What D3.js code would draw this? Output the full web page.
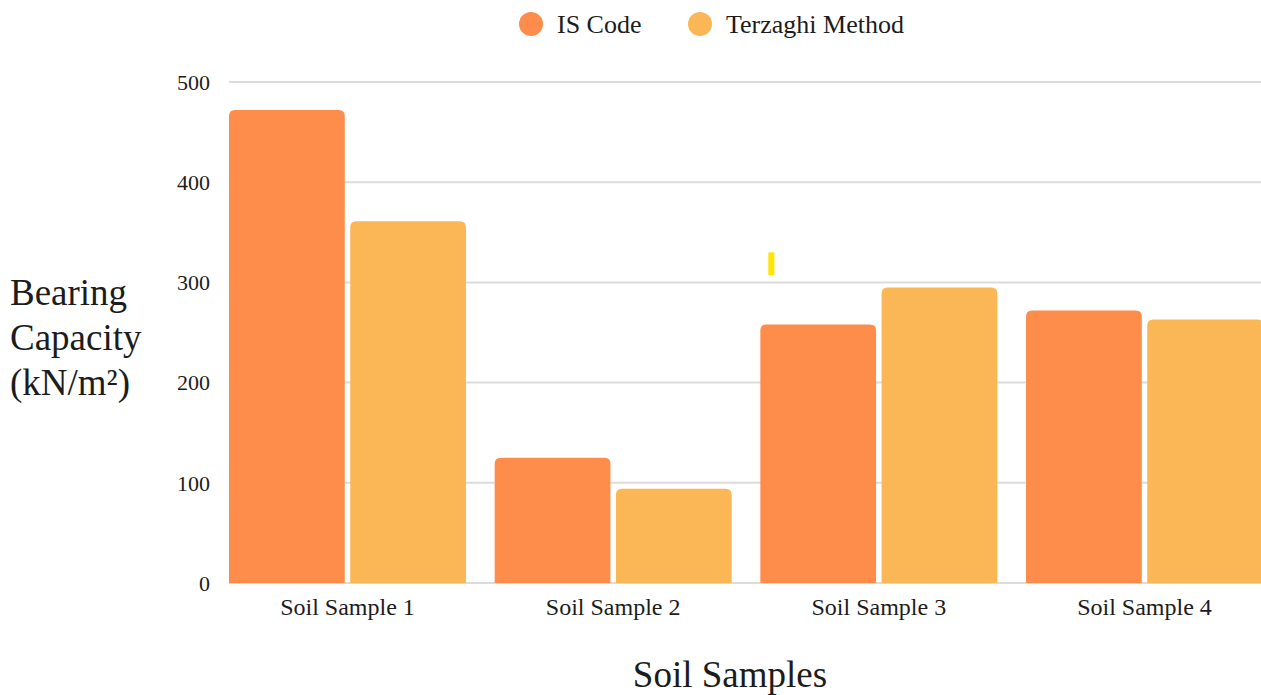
<!DOCTYPE html>
<html>
<head>
<meta charset="utf-8">
<script src="https://cdn.jsdelivr.net/npm/d3@7"></script>
</head>
<body style="margin:0;padding:0;background:#fff">
<svg id="chart" width="1261" height="695" style="display:block"></svg>
<script>
// Bearing capacity of four soil samples by two methods
const categories = ["Soil Sample 1", "Soil Sample 2", "Soil Sample 3", "Soil Sample 4"];
const seriesNames = ["IS Code", "Terzaghi Method"];
const isCode = [472, 125, 258, 272];
const terzaghi = [361, 94, 295, 263];
const yTicks = [0, 100, 200, 300, 400, 500];
const colors = ["#fe8c4a", "#fbb756"];

const FONT = "'Liberation Serif', 'Times New Roman', Times, serif";
const TEXT_COLOR = "#1c1c1c";

const svg = d3.select("#chart")
  .attr("font-family", FONT);
const margin = { left: 229, right: -2, top: 82, bottom: 112 };
const W = 1261, H = 695;

const x = d3.scaleBand()
  .domain(categories)
  .range([margin.left, W - margin.right])
  .paddingInner(0.108)
  .paddingOuter(0);

const xInner = d3.scaleBand()
  .domain(seriesNames)
  .range([0, x.bandwidth()])
  .paddingInner(0.045);

const y = d3.scaleLinear()
  .domain([0, 500])
  .range([H - margin.bottom, margin.top]);

// gridlines
svg.append("g")
  .selectAll("line")
  .data(yTicks)
  .join("line")
  .attr("x1", margin.left)
  .attr("x2", W)
  .attr("y1", d => y(d))
  .attr("y2", d => y(d))
  .attr("stroke", "#dcdcdc")
  .attr("stroke-width", 2);

// y tick labels
svg.append("g")
  .selectAll("text")
  .data(yTicks)
  .join("text")
  .attr("x", 210)
  .attr("y", d => y(d))
  .attr("dy", "0.35em")
  .attr("text-anchor", "end")
  .attr("font-family", FONT)
  .attr("font-size", 22)
  .attr("fill", TEXT_COLOR)
  .text(d => d);

// bars with rounded tops
const rows = categories.map((c, i) => ({ cat: c, vals: [isCode[i], terzaghi[i]] }));
const r = 6;
function topRounded(x0, y0, w, h) {
  const rr = Math.min(r, h, w / 2);
  return `M${x0},${y0 + h}V${y0 + rr}Q${x0},${y0} ${x0 + rr},${y0}H${x0 + w - rr}Q${x0 + w},${y0} ${x0 + w},${y0 + rr}V${y0 + h}Z`;
}

const groups = svg.append("g")
  .selectAll("g")
  .data(rows)
  .join("g")
  .attr("transform", d => `translate(${x(d.cat)},0)`);

groups.selectAll("path")
  .data(d => d.vals.map((v, j) => ({ name: seriesNames[j], v, j })))
  .join("path")
  .attr("d", d => topRounded(xInner(d.name), y(d.v), xInner.bandwidth(), y(0) - y(d.v)))
  .attr("fill", d => colors[d.j]);

// small yellow tick mark above the third group
svg.append("rect")
  .attr("x", x(categories[2]) + 8)
  .attr("y", y(330))
  .attr("width", 6)
  .attr("height", y(307) - y(330))
  .attr("rx", 1)
  .attr("fill", "#ffe500");

// x category labels
svg.append("g")
  .selectAll("text")
  .data(categories)
  .join("text")
  .attr("x", d => x(d) + x.bandwidth() / 2)
  .attr("y", 615)
  .attr("text-anchor", "middle")
  .attr("font-family", FONT)
  .attr("font-size", 24)
  .attr("fill", TEXT_COLOR)
  .text(d => d);

// axis titles
svg.append("text")
  .attr("x", 730)
  .attr("y", 687)
  .attr("text-anchor", "middle")
  .attr("font-family", FONT)
  .attr("font-size", 37)
  .attr("fill", TEXT_COLOR)
  .text("Soil Samples");

const yTitle = svg.append("text")
  .attr("x", 10)
  .attr("font-family", FONT)
  .attr("font-size", 37)
  .attr("fill", TEXT_COLOR);
["Bearing", "Capacity", "(kN/m²)"].forEach((line, i) => {
  yTitle.append("tspan")
    .attr("x", 10)
    .attr("y", 305 + i * 45)
    .text(line);
});

// legend
const legendX = [531, 700];
const legend = svg.append("g")
  .selectAll("g")
  .data(seriesNames)
  .join("g")
  .attr("transform", (d, i) => `translate(${legendX[i]},24)`);
legend.append("circle")
  .attr("r", 12)
  .attr("fill", (d, i) => colors[i]);
legend.append("text")
  .attr("x", 26)
  .attr("dy", "0.35em")
  .attr("font-family", FONT)
  .attr("font-size", 26)
  .attr("fill", TEXT_COLOR)
  .text(d => d);
</script>
</body>
</html>
